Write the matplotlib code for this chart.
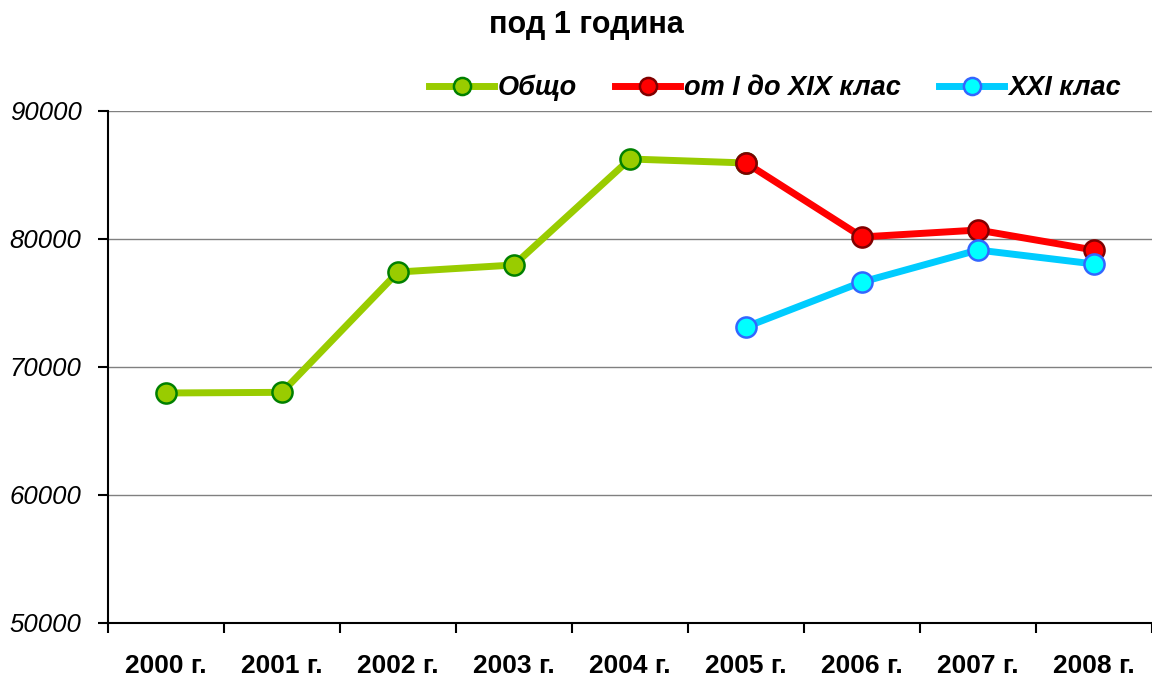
import matplotlib
matplotlib.use("Agg")
import matplotlib.pyplot as plt
import numpy as np

years = ["2000 г.", "2001 г.", "2002 г.", "2003 г.", "2004 г.", "2005 г.", "2006 г.", "2007 г.", "2008 г."]
obshto = [67970, 68020, 77420, 77970, 86250, 85940]
red_vals = [85940, 80160, 80700, 79140]
cyan_vals = [73130, 76640, 79140, 78050]
title = "под 1 година"
labels = ["Общо", "от I до XIX клас", "XXI клас"]
yticks = [50000, 60000, 70000, 80000, 90000]

plt.rcParams['font.family'] = ['Liberation Sans', 'DejaVu Sans']

fig = plt.figure(figsize=(11.52, 6.77), dpi=100)
ax = fig.add_axes([108/1152, 1-623/677, 1-108/1152, (623-111)/677])

x = np.arange(len(years))
lw, ms, mew = 5.0, 14.5, 1.8
ax.plot(x[:6], obshto, color='#99CC00', lw=lw, marker='o', ms=ms,
        mfc='#99CC00', mec='#008000', mew=mew, label=labels[0], zorder=3)
ax.plot(x[5:], red_vals, color='#FF0000', lw=lw, marker='o', ms=ms,
        mfc='#FF0000', mec='#800000', mew=mew, label=labels[1], zorder=4)
ax.plot(x[5:], cyan_vals, color='#00CCFF', lw=lw, marker='o', ms=ms,
        mfc='#00FFFF', mec='#3366FF', mew=mew, label=labels[2], zorder=5)

ax.set_xlim(-0.5, len(years) - 0.5)
ax.set_ylim(50000, 90000)
ax.set_yticks(yticks)
ax.set_yticklabels([str(v) for v in yticks], fontsize=18.5, style='italic')
ax.yaxis.grid(True, color='#808080', lw=1)
ax.set_axisbelow(True)

ax.set_xticks(np.arange(-0.5, len(years)), minor=False)
ax.set_xticklabels([])
ax.set_xticks(x, minor=True)
ax.set_xticklabels(years, minor=True, fontsize=19, fontweight='bold')
ax.tick_params(axis='x', which='minor', length=0, pad=22)
ax.tick_params(axis='x', which='major', length=7, width=1.5, direction='out')
ax.tick_params(axis='y', length=7, width=1.5, direction='out', pad=12)

for s in ['top', 'right']:
    ax.spines[s].set_visible(False)
for s in ['left', 'bottom']:
    ax.spines[s].set_linewidth(1.5)
    ax.spines[s].set_color('black')

fig.text(586/1152, 1-25/677, title, ha='center', va='center', fontsize=22, fontweight='bold')

leg = fig.legend(loc='center', bbox_to_anchor=(775/1152, 1-88/677), ncol=3, frameon=False,
                 prop={'size': 19.5, 'weight': 'bold', 'style': 'italic'},
                 handlelength=2.4, handletextpad=0.15, columnspacing=1.4, markerscale=0.85,
                 borderpad=0, borderaxespad=0)

fig.savefig("out.png", dpi=100)
